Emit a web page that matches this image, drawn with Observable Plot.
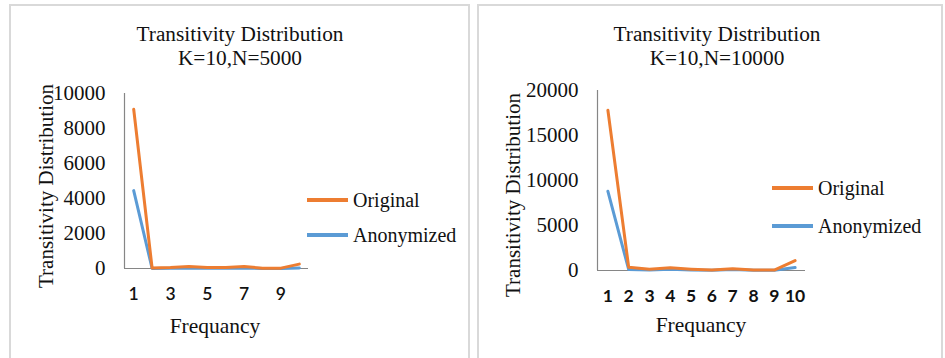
<!DOCTYPE html>
<html>
<head>
<meta charset="utf-8">
<script src="https://cdn.jsdelivr.net/npm/d3@7"></script>
<script src="https://cdn.jsdelivr.net/npm/@observablehq/plot@0.6"></script>
<style>
  body { margin: 0; background: #fff; }
  #root { position: relative; width: 945px; height: 358px; overflow: hidden; background: #fff; }
  .panel { position: absolute; border: 2px solid #d9d9d9; box-sizing: border-box; }
  .txt { position: absolute; font-family: "Liberation Serif", "Times New Roman", serif; color: #111; white-space: nowrap; }
  .title { text-align: center; font-size: 21.3px; line-height: 24px; transform: translateX(-50%); }
  .ylab { font-size: 21px; transform: translate(-50%, -50%) rotate(-90deg); }
  .xlab { font-size: 21.5px; transform: translate(-50%, -50%); }
  .leg { font-size: 20px; transform: translateY(-50%); }
  .legline { position: absolute; height: 4px; transform: translateY(-50%); }
  svg { position: absolute; top: 0; }
</style>
</head>
<body>
<div id="root"></div>
<script>
// ---- data ----
const frequency = [1, 2, 3, 4, 5, 6, 7, 8, 9, 10];
const series = ["Original", "Anonymized"];
const colors = ["#ED7D31", "#5B9BD5"];

const original5000   = [9100, 30, 60, 120, 60, 60, 110, 20, 20, 250];
const anonymized5000 = [4450, 0, 10, 20, 10, 10, 20, 5, 5, 30];
const yTicks5000 = [0, 2000, 4000, 6000, 8000, 10000];
const xTicks5000 = [1, 3, 5, 7, 9];

const original10000   = [17800, 350, 150, 300, 150, 50, 200, 50, 50, 1100];
const anonymized10000 = [8800, 100, 50, 150, 50, 20, 100, 20, 20, 330];
const yTicks10000 = [0, 5000, 10000, 15000, 20000];
const xTicks10000 = [1, 2, 3, 4, 5, 6, 7, 8, 9, 10];

const root = document.getElementById("root");

function add(cls, text, style) {
  const d = document.createElement("div");
  d.className = cls;
  if (text != null) d.textContent = text;
  Object.assign(d.style, style);
  root.appendChild(d);
  return d;
}

function panel(cfg) {
  const data = [];
  frequency.forEach((f, i) => data.push({f, v: cfg.anon[i], s: "Anonymized"}));
  frequency.forEach((f, i) => data.push({f, v: cfg.orig[i], s: "Original"}));
  const ymax = cfg.yTicks[cfg.yTicks.length - 1];
  const svg = Plot.plot({
    width: cfg.svgW,
    height: 358,
    marginLeft: cfg.axisX0 - cfg.svgX,
    marginRight: cfg.svgW - (cfg.axisX1 - cfg.svgX),
    marginTop: cfg.yTop,
    marginBottom: 358 - cfg.yZero,
    x: {domain: [0.5, 10.5]},
    y: {domain: [0, ymax]},
    color: {domain: series, range: colors},
    marks: [
      Plot.ruleX([0.5], {y1: 0, y2: ymax, stroke: "#868686", strokeWidth: 1.2}),
      Plot.ruleY([0], {stroke: "#868686", strokeWidth: 1.2}),
      Plot.line(data, {x: "f", y: "v", z: "s", stroke: "s", strokeWidth: 3, strokeLinejoin: "round"}),
      Plot.axisY({ticks: cfg.yTicks, tickSize: 0, tickPadding: 19, label: null, tickFormat: d => String(d),
        fontFamily: "Liberation Serif", fontSize: 21, fill: "#111"}),
      Plot.axisX({ticks: cfg.xTicks, tickSize: 0, tickPadding: 19, label: null, tickFormat: d => String(d),
        fontFamily: "Lato", fontSize: 17.5, fontWeight: cfg.xBold ? "bold" : "600", fill: "#111"})
    ]
  });
  svg.style.left = cfg.svgX + "px";
  root.appendChild(svg);

  add("txt title", null, {left: cfg.titleX + "px", top: "22px"}).innerHTML =
    "Transitivity Distribution<br>" + cfg.sub;
  add("txt ylab", "Transitivity Distribution", {left: cfg.ylabX + "px", top: cfg.ylabY + "px"});
  add("txt xlab", "Frequancy", {left: cfg.xlabX + "px", top: cfg.xlabY + "px"});
  series.forEach((s, i) => {
    const y = cfg.legY[i];
    add("legline", null, {left: cfg.legX + "px", top: y + "px", width: "41px", background: colors[i]});
    add("txt leg", s, {left: (cfg.legX + 46) + "px", top: y + "px"});
  });
}

// panel borders
add("panel", null, {left: "9px", top: "4px", width: "461px", height: "360px"});
add("panel", null, {left: "477px", top: "4px", width: "466px", height: "360px"});

panel({
  svgX: 0, svgW: 470, axisX0: 124, axisX1: 308, yTop: 93, yZero: 268,
  orig: original5000, anon: anonymized5000, yTicks: yTicks5000, xTicks: xTicks5000, xBold: false,
  sub: "K=10,N=5000", titleX: 240, ylabX: 46, ylabY: 186, xlabX: 215, xlabY: 326,
  legX: 307, legY: [200, 235]
});

panel({
  svgX: 478, svgW: 465, axisX0: 597, axisX1: 805, yTop: 90, yZero: 270,
  orig: original10000, anon: anonymized10000, yTicks: yTicks10000, xTicks: xTicks10000, xBold: true,
  sub: "K=10,N=10000", titleX: 717, ylabX: 513, ylabY: 195, xlabX: 701, xlabY: 325,
  legX: 772, legY: [188, 226]
});
</script>
</body>
</html>
